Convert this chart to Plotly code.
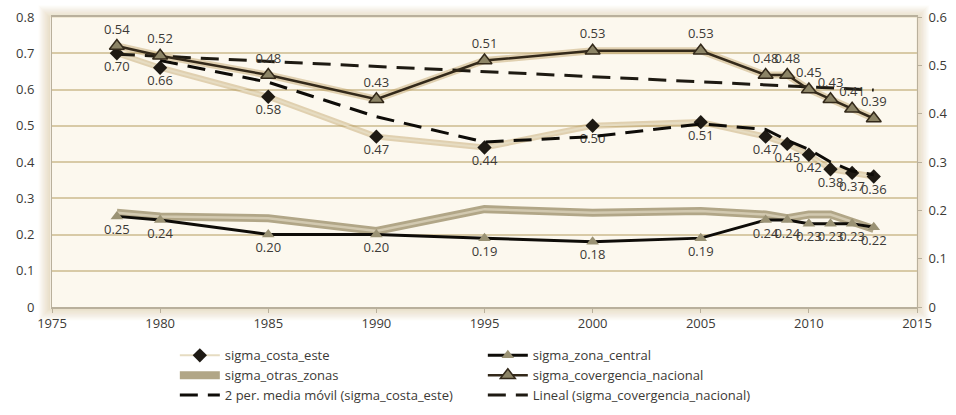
import plotly.graph_objects as go

years = [1978, 1980, 1985, 1990, 1995, 2000, 2005, 2008, 2009, 2010, 2011, 2012, 2013]
sigma_costa_este = [0.70, 0.66, 0.58, 0.47, 0.44, 0.50, 0.51, 0.47, 0.45, 0.42, 0.38, 0.37, 0.36]
sigma_zona_central = [0.25, 0.24, 0.20, 0.20, 0.19, 0.18, 0.19, 0.24, 0.24, 0.23, 0.23, 0.23, 0.22]
sigma_otras_zonas = [0.26, 0.25, 0.245, 0.21, 0.27, 0.26, 0.265, 0.255, 0.245, 0.255, 0.255, 0.235, 0.215]
sigma_covergencia_nacional = [0.54, 0.52, 0.48, 0.43, 0.51, 0.53, 0.53, 0.48, 0.48, 0.45, 0.43, 0.41, 0.39]
media_movil_costa_este = [None, 0.68, 0.62, 0.525, 0.455, 0.47, 0.505, 0.49, 0.46, 0.435, 0.40, 0.375, 0.365]
lineal_years = [1978, 2013]
lineal_covergencia = [0.523, 0.449]

x_ticks = [1975, 1980, 1985, 1990, 1995, 2000, 2005, 2010, 2015]
y_left_ticks = [0, 0.1, 0.2, 0.3, 0.4, 0.5, 0.6, 0.7, 0.8]
y_left_labels = ["0", "0.1", "0.2", "0.3", "0.4", "0.5", "0.6", "0.7", "0.8"]
y_right_ticks = [0, 0.1, 0.2, 0.3, 0.4, 0.5, 0.6]
y_right_labels = ["0", "0.1", "0.2", "0.3", "0.4", "0.5", "0.6"]

FONT = "Open Sans"
TXT = "#3c3a36"
GLOW = "rgba(190,160,100,0.45)"

fig = go.Figure()

# glow halos (no legend)
fig.add_trace(go.Scatter(x=years, y=sigma_costa_este, mode="lines", line=dict(color=GLOW, width=6),
                         showlegend=False, hoverinfo="skip"))
fig.add_trace(go.Scatter(x=years, y=sigma_covergencia_nacional, yaxis="y2", mode="lines",
                         line=dict(color=GLOW, width=7), showlegend=False, hoverinfo="skip"))

# sigma_costa_este
fig.add_trace(go.Scatter(
    x=years, y=sigma_costa_este, name="sigma_costa_este", mode="lines+markers+text",
    line=dict(color="#e6dcc2", width=2),
    marker=dict(symbol="diamond", size=11, color="#1e1a14"),
    text=[f"{v:.2f}" for v in sigma_costa_este], textposition="bottom center",
    textfont=dict(family=FONT, size=13, color=TXT), legendrank=1))

# sigma_otras_zonas (band)
fig.add_trace(go.Scatter(
    x=years, y=sigma_otras_zonas, name="sigma_otras_zonas", mode="lines",
    line=dict(color="#b1a687", width=8), legendrank=3))
fig.add_trace(go.Scatter(x=years, y=sigma_otras_zonas, mode="lines",
                         line=dict(color="#d2c9b0", width=2.5), showlegend=False, hoverinfo="skip"))

# sigma_zona_central
fig.add_trace(go.Scatter(
    x=years, y=sigma_zona_central, name="sigma_zona_central", mode="lines+markers+text",
    line=dict(color="#0e0c08", width=3),
    marker=dict(symbol="triangle-up", size=11, color="#9a9274"),
    text=[f"{v:.2f}" for v in sigma_zona_central], textposition="bottom center",
    textfont=dict(family=FONT, size=13, color=TXT), legendrank=2))

# moving average
fig.add_trace(go.Scatter(
    x=years, y=media_movil_costa_este, name="2 per. media móvil (sigma_costa_este)", mode="lines",
    line=dict(color="#0e0c08", width=3, dash="18px,10px"), legendrank=5))

# linear trend
fig.add_trace(go.Scatter(
    x=lineal_years, y=lineal_covergencia, yaxis="y2", name="Lineal (sigma_covergencia_nacional)",
    mode="lines", line=dict(color="#1e1a12", width=3, dash="18px,10px"), legendrank=6))

# sigma_covergencia_nacional
fig.add_trace(go.Scatter(
    x=years, y=sigma_covergencia_nacional, yaxis="y2", name="sigma_covergencia_nacional",
    mode="lines+markers+text", line=dict(color="#33291a", width=2.5),
    marker=dict(symbol="triangle-up", size=13, color="#8c8466", line=dict(color="#33291a", width=1.5)),
    text=[f"{v:.2f}" for v in sigma_covergencia_nacional], textposition="top center",
    textfont=dict(family=FONT, size=13, color=TXT), legendrank=4))

# soft glow frame around plot area (outline rings only, outside the plot area)
W, H = 865.0, 290.0
shapes = []
for k in range(1, 13):
    a = 0.28 * (1 - k / 13.0)
    shapes.append(dict(type="rect", xref="paper", yref="paper",
                       x0=-(k + 1) / W, x1=1 + (k - 0.5) / W, y0=-(k + 1) / H, y1=1 + (k - 1) / H,
                       fillcolor="rgba(0,0,0,0)", line=dict(width=1.6, color=f"rgba(195,165,105,{a:.3f})"),
                       layer="below"))

fig.update_layout(
    width=956, height=415,
    margin=dict(l=52, r=39, t=17, b=108, autoexpand=False),
    paper_bgcolor="white", plot_bgcolor="#fcf8ee",
    font=dict(family=FONT, size=13, color=TXT),
    shapes=shapes,
    xaxis=dict(range=[1975, 2015], tickvals=x_ticks, showgrid=False, zeroline=False,
               showline=True, linecolor="#b9b09c", linewidth=1.5, mirror=True,
               ticks="outside", ticklen=4, tickcolor="#b9b09c", automargin=False),
    yaxis=dict(range=[0, 0.8], tickvals=y_left_ticks, ticktext=y_left_labels, showgrid=True,
               gridcolor="#d8caa6", gridwidth=1.5, zeroline=False, showline=True,
               linecolor="#b9b09c", mirror=True, ticks="", ticklabelstandoff=14, automargin=False),
    yaxis2=dict(range=[0, 0.6], tickvals=y_right_ticks, ticktext=y_right_labels, overlaying="y",
                side="right", showgrid=False, zeroline=False, ticks="outside", ticklen=4,
                tickcolor="#b9b09c", ticklabelstandoff=4, automargin=False),
    legend=dict(orientation="h", x=0.142, xanchor="left", y=-0.115, yanchor="top",
                entrywidth=253, traceorder="normal", font=dict(family=FONT, size=13, color=TXT),
                bgcolor="rgba(0,0,0,0)", tracegroupgap=0, itemwidth=40),
    showlegend=True,
)

fig.write_html("out.html", config={"displayModeBar": False},
               post_script="document.body.style.margin='0';document.body.style.overflow='hidden';")
